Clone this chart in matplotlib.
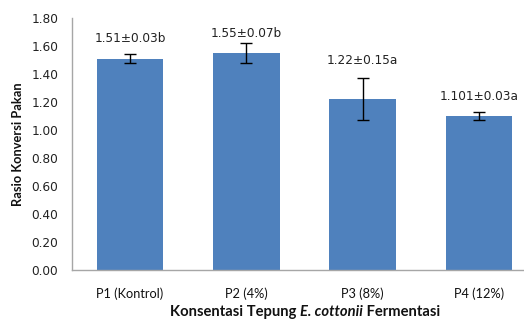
import matplotlib.pyplot as plt
from matplotlib.offsetbox import TextArea, HPacker, AnchoredOffsetbox

# Feed conversion ratio per treatment
categories = ["P1 (Kontrol)", "P2 (4%)", "P3 (8%)", "P4 (12%)"]
means = [1.51, 1.55, 1.22, 1.101]
errors = [0.03, 0.07, 0.15, 0.03]
labels = ["1.51±0.03b", "1.55±0.07b", "1.22±0.15a", "1.101±0.03a"]
y_ticks = [0.00, 0.20, 0.40, 0.60, 0.80, 1.00, 1.20, 1.40, 1.60, 1.80]

FONT = "Lato"

fig = plt.figure(figsize=(5.24, 3.22), dpi=100)
ax = fig.add_axes([72 / 524, 52 / 322, 465 / 524, 252 / 322])

x = range(len(categories))
ax.bar(x, means, width=0.57, color="#4F81BD", zorder=2)
ax.errorbar(x, means, yerr=errors, fmt="none", ecolor="black",
            elinewidth=1, capsize=4, capthick=1, zorder=3)

# value labels sit a bit above each bar
label_pad = [0.14, 0.14, 0.28, 0.135]
for i, (m, lab) in enumerate(zip(means, labels)):
    ax.text(i, m + label_pad[i], lab, ha="center", va="center",
            fontsize=8.7, family="DejaVu Sans", color="#222222")

ax.set_xlim(-0.5, 3.5)
ax.set_ylim(0, 1.8)
ax.set_yticks(y_ticks)
ax.set_yticklabels([f"{t:.2f}" for t in y_ticks], fontsize=8.7,
                   family="DejaVu Sans", color="#222222")
ax.set_xticks(list(x))
ax.set_xticklabels(categories, fontsize=9.2, family=FONT, color="#111111")
ax.tick_params(axis="y", length=0, pad=10)
ax.tick_params(axis="x", length=0, pad=12.5)

for s in ["top", "right"]:
    ax.spines[s].set_visible(False)
for s in ["left", "bottom"]:
    ax.spines[s].set_color("#A6A6A6")
    ax.spines[s].set_linewidth(1)

fig.text(18 / 524, 1 - 144 / 322, "Rasio Konversi Pakan", rotation=90,
         ha="center", va="center", fontsize=9.3, family=FONT,
         weight="bold", color="#111111")

# x axis title with the species name in italics
title_props = dict(fontsize=10.6, family=FONT, weight="bold", color="#111111")
parts = [
    TextArea("Konsentasi Tepung ", textprops=title_props),
    TextArea("E. cottonii", textprops=dict(title_props, style="italic")),
    TextArea(" Fermentasi", textprops=title_props),
]
row = HPacker(children=parts, align="baseline", pad=0, sep=0)
box = AnchoredOffsetbox(loc="center", child=row, pad=0, frameon=False,
                        bbox_to_anchor=(305 / 524, 1 - 312 / 322),
                        bbox_transform=fig.transFigure, borderpad=0)
fig.add_artist(box)

fig.savefig("out.png", dpi=100)
